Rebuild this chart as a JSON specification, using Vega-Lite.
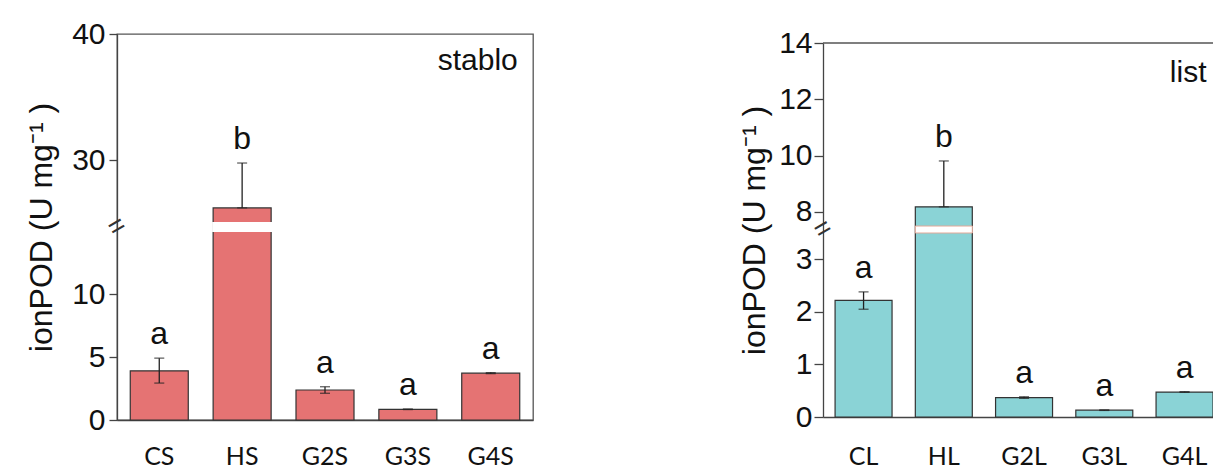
{
  "$schema": "https://vega.github.io/schema/vega-lite/v6.json",
  "background": "white",
  "padding": {"left": 24, "top": 18, "right": 0, "bottom": 0},
  "bounds": "flush",
  "spacing": 290,
  "config": {
    "font": "Liberation Sans",
    "axis": {"grid": false, "domainColor": "#444", "domainWidth": 1.3, "tickColor": "#444", "tickWidth": 1.3, "labelColor": "#111", "titleColor": "#111", "titleFontWeight": "normal", "titleFont": "Liberation Sans", "titleFontSize": 32, "labelFont": "Liberation Sans", "labelFontSize": 30}
  },
  "datasets": {
    "stem": [
      {"group": "CS", "mean": 3.9, "lo": 2.93, "hi": 4.91, "sig": "a"},
      {"group": "HS", "mean": 26.2, "lo": 26.2, "hi": 29.76, "sig": "b"},
      {"group": "G2S", "mean": 2.38, "lo": 2.12, "hi": 2.64, "sig": "a"},
      {"group": "G3S", "mean": 0.85, "lo": 0.83, "hi": 0.87, "sig": "a"},
      {"group": "G4S", "mean": 3.72, "lo": 3.68, "hi": 3.76, "sig": "a"}
    ],
    "leaf": [
      {"group": "CL", "mean": 2.22, "lo": 2.05, "hi": 2.38, "sig": "a"},
      {"group": "HL", "mean": 8.18, "lo": 8.18, "hi": 9.81, "sig": "b"},
      {"group": "G2L", "mean": 0.37, "lo": 0.355, "hi": 0.385, "sig": "a"},
      {"group": "G3L", "mean": 0.13, "lo": 0.125, "hi": 0.135, "sig": "a"},
      {"group": "G4L", "mean": 0.475, "lo": 0.47, "hi": 0.48, "sig": "a"}
    ],
    "stemBreak": [{"group": "HS", "from": 15, "to": 25, "mid": 20, "panel": "stablo"}],
    "leafBreak": [{"group": "HL", "from": 3.5, "to": 7.5, "mid": 5.5, "panel": "list", "top": 14}]
  },
  "hconcat": [
    {
      "width": 416,
      "height": 386,
      "view": {"stroke": "#555", "strokeWidth": 1.3},
      "encoding": {
        "x": {"field": "group", "type": "nominal", "sort": null,
          "scale": {"domain": ["CS", "HS", "G2S", "G3S", "G4S"], "paddingInner": 0.3, "paddingOuter": 0.16},
          "axis": {"title": null, "labelAngle": 0, "ticks": false, "tickSize": 0, "labelPadding": 24, "labelFont": "Lato", "labelFontSize": 25, "labelBaseline": "top"}}
      },
      "layer": [
        {
          "data": {"name": "stem"},
          "mark": {"type": "bar", "fill": "#E57373", "stroke": "#333", "strokeWidth": 1.2},
          "encoding": {
            "y": {"field": "mean", "type": "quantitative",
              "scale": {"domain": [0, 15, 25, 40], "range": [386, 197, 189, 0], "nice": false, "zero": false},
              "axis": {"values": [0, 5, 10, 30, 40], "tickSize": 8, "labelPadding": 4, "titlePadding": 13, "title": "ionPOD (U mg⁻¹ )"}}
          }
        },
        {
          "data": {"name": "stemBreak"},
          "mark": {"type": "bar", "fill": "white", "stroke": "white", "strokeWidth": 2},
          "encoding": {"y": {"field": "from", "type": "quantitative"}, "y2": {"field": "to"}}
        },
        {
          "data": {"name": "stem"},
          "mark": {"type": "rule", "color": "#222", "strokeWidth": 1.3},
          "encoding": {"y": {"field": "lo", "type": "quantitative"}, "y2": {"field": "hi"}}
        },
        {
          "data": {"name": "stem"},
          "mark": {"type": "tick", "color": "#222", "size": 10, "thickness": 1.3},
          "encoding": {"y": {"field": "hi", "type": "quantitative"}}
        },
        {
          "data": {"name": "stem"},
          "mark": {"type": "tick", "color": "#222", "size": 10, "thickness": 1.3},
          "encoding": {"y": {"field": "lo", "type": "quantitative"}}
        },
        {
          "data": {"name": "stem"},
          "mark": {"type": "text", "fontSize": 32, "baseline": "alphabetic", "dy": -14, "color": "#111"},
          "encoding": {"y": {"field": "hi", "type": "quantitative"}, "text": {"field": "sig"}}
        },
        {
          "data": {"name": "stemBreak"},
          "mark": {"type": "text", "text": "=", "angle": -30, "fontSize": 28, "align": "center", "baseline": "middle", "color": "#333"},
          "encoding": {"x": {"value": 0}, "y": {"field": "mid", "type": "quantitative"}}
        },
        {
          "data": {"name": "stemBreak"},
          "mark": {"type": "text", "fontSize": 30, "align": "right", "baseline": "alphabetic", "dx": 27, "dy": 36, "color": "#111"},
          "encoding": {"x": {"datum": "G4S"}, "y": {"datum": 40}, "text": {"field": "panel"}}
        }
      ]
    },
    {
      "width": 392,
      "height": 383,
      "view": {"stroke": null},
      "layer": [
        {
          "data": {"name": "leafBreak"},
          "mark": {"type": "rule", "color": "#555", "strokeWidth": 1.3},
          "encoding": {"y": {"field": "top", "type": "quantitative"}}
        },
        {
          "encoding": {
            "x": {"field": "group", "type": "nominal", "sort": null,
              "scale": {"domain": ["CL", "HL", "G2L", "G3L", "G4L"], "paddingInner": 0.29, "paddingOuter": 0.0875, "align": 0.86},
              "axis": {"title": null, "labelAngle": 0, "ticks": false, "tickSize": 0, "labelPadding": 27, "labelFont": "Lato", "labelFontSize": 25, "labelBaseline": "top"}}
          },
          "layer": [
            {
              "data": {"name": "leaf"},
              "mark": {"type": "bar", "fill": "#8AD3D6", "stroke": "#333", "strokeWidth": 1.2},
              "encoding": {
                "y": {"field": "mean", "type": "quantitative",
                  "scale": {"domain": [0, 3.5, 7.5, 14], "range": [383, 199, 192, 9], "nice": false, "zero": false},
                  "axis": {"values": [0, 1, 2, 3, 8, 10, 12, 14], "tickSize": 9, "labelPadding": 2, "titlePadding": 7, "title": "ionPOD (U mg⁻¹ )"}}
              }
            },
            {
              "data": {"name": "leafBreak"},
              "mark": {"type": "bar", "fill": "white", "stroke": "#E3A898", "strokeWidth": 1},
              "encoding": {"y": {"field": "from", "type": "quantitative"}, "y2": {"field": "to"}}
            },
            {
              "data": {"name": "leaf"},
              "mark": {"type": "rule", "color": "#222", "strokeWidth": 1.3},
              "encoding": {"y": {"field": "lo", "type": "quantitative"}, "y2": {"field": "hi"}}
            },
            {
              "data": {"name": "leaf"},
              "mark": {"type": "tick", "color": "#222", "size": 10, "thickness": 1.3},
              "encoding": {"y": {"field": "hi", "type": "quantitative"}}
            },
            {
              "data": {"name": "leaf"},
              "mark": {"type": "tick", "color": "#222", "size": 10, "thickness": 1.3},
              "encoding": {"y": {"field": "lo", "type": "quantitative"}}
            },
            {
              "data": {"name": "leaf"},
              "mark": {"type": "text", "fontSize": 32, "baseline": "alphabetic", "dy": -14, "color": "#111"},
              "encoding": {"y": {"field": "hi", "type": "quantitative"}, "text": {"field": "sig"}}
            },
            {
              "data": {"name": "leafBreak"},
              "mark": {"type": "text", "fontSize": 30, "align": "right", "baseline": "alphabetic", "dx": 22, "dy": 39, "color": "#111"},
              "encoding": {"x": {"datum": "G4L"}, "y": {"datum": 14}, "text": {"field": "panel"}}
            }
          ]
        },
        {
          "data": {"name": "leafBreak"},
          "mark": {"type": "text", "text": "=", "angle": -30, "fontSize": 28, "align": "center", "baseline": "middle", "color": "#333"},
          "encoding": {"x": {"value": 0}, "y": {"field": "mid", "type": "quantitative"}}
        }
      ]
    }
  ]
}
